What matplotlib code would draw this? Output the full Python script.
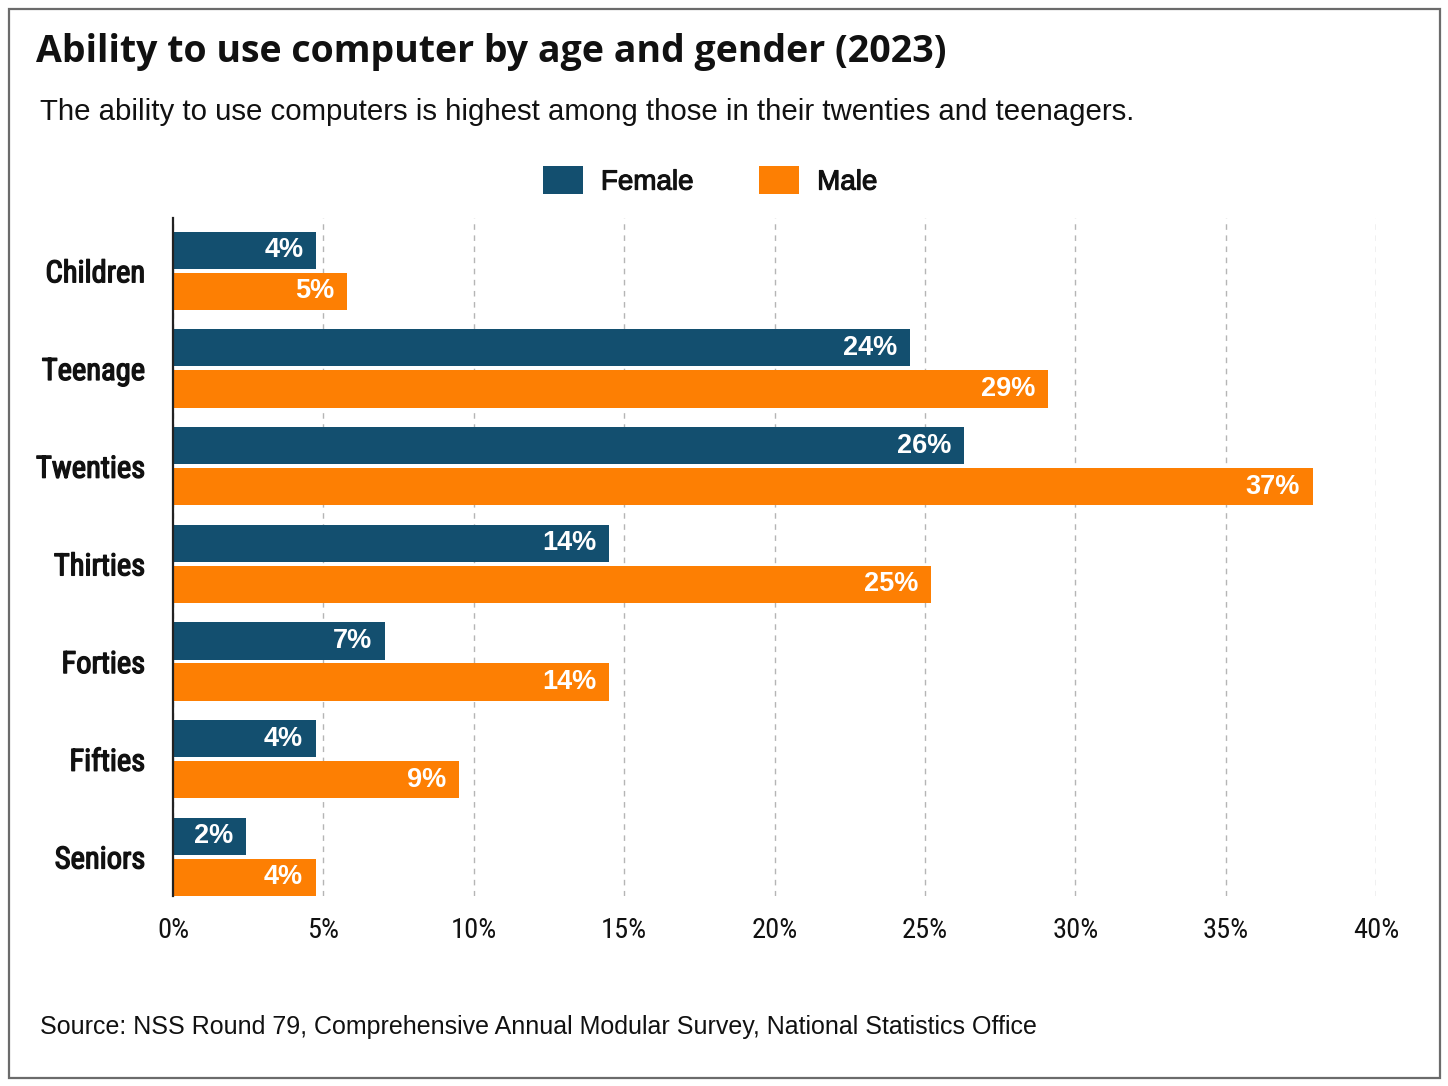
import matplotlib
matplotlib.use("Agg")
import matplotlib.pyplot as plt
from matplotlib.patches import Rectangle, Patch
import matplotlib.patheffects as pe
import numpy as np
import math

categories = ["Children", "Teenage", "Twenties", "Thirties", "Forties", "Fifties", "Seniors"]
female = [4.76, 24.5, 26.3, 14.5, 7.05, 4.75, 2.43]
male = [5.79, 29.1, 37.9, 25.2, 14.5, 9.5, 4.74]
xticks = [0, 5, 10, 15, 20, 25, 30, 35, 40]
xtick_labels = ["0%", "5%", "10%", "15%", "20%", "25%", "30%", "35%", "40%"]
series_names = ["Female", "Male"]

FEMALE_C = "#134f6f"
MALE_C = "#fd7f03"
NARROW = ["Liberation Sans Narrow", "Roboto Condensed", "DejaVu Sans"]

W, H = 1448, 1086
fig = plt.figure(figsize=(W / 100, H / 100), dpi=100)
fig.patch.set_facecolor("white")

# outer frame
fig.add_artist(Rectangle((9 / W, 1 - 1078 / H), (1440 - 9) / W, (1078 - 9) / H,
                         transform=fig.transFigure, fill=False, edgecolor="#6b6b6b", lw=1.6))

ax = fig.add_axes([173 / W, 1 - 896 / H, (1376 - 173) / W, (896 - 218) / H])
y = np.arange(len(categories))
bh = 0.38
off = 0.21
bf = ax.barh(y - off, female, height=bh, color=FEMALE_C, zorder=3)
bm = ax.barh(y + off, male, height=bh, color=MALE_C, zorder=3)

for bars, vals in ((bf, female), (bm, male)):
    for b, v in zip(bars, vals):
        ax.text(b.get_width() - 0.42, b.get_y() + b.get_height() / 2,
                f"{math.floor(v)}%", ha="right", va="center", color="white",
                fontsize=19.5, fontweight="bold", family="Liberation Sans", zorder=4)

ax.set_xlim(0, 40)
ax.set_ylim(6.40, -0.54)
ax.set_yticks(y)
ax.set_yticklabels(categories, family=NARROW, fontsize=22)
for lbl in ax.get_yticklabels():
    lbl.set_path_effects([pe.withStroke(linewidth=1.0, foreground="#111111")])
    lbl.set_color("#111111")
ax.set_xticks(xticks)
ax.set_xticklabels(xtick_labels, family=NARROW, fontsize=20.5)
for lbl in ax.get_xticklabels():
    lbl.set_color("#111111")
ax.tick_params(axis="y", length=0, pad=20)
ax.tick_params(axis="x", length=0, pad=15)
ax.xaxis.grid(True, linestyle=(0, (4, 4)), color="#b5b5b5", lw=1.0, zorder=0)
ax.set_axisbelow(True)
for s in ["top", "right", "bottom"]:
    ax.spines[s].set_visible(False)
ax.spines["left"].set_color("#222222")
ax.spines["left"].set_linewidth(1.6)
ax.spines["left"].set_zorder(5)

fig.text(36 / W, 1 - 52 / H, "Ability to use computer by age and gender (2023)",
         fontsize=27, fontweight="bold", family="Open Sans", va="center", ha="left", color="#111111")
fig.text(40 / W, 1 - 112 / H,
         "The ability to use computers is highest among those in their twenties and teenagers.",
         fontsize=21.2, family="Liberation Sans", va="center", ha="left", color="#111111")

handles = [Patch(facecolor=FEMALE_C), Patch(facecolor=MALE_C)]
leg = fig.legend(handles, series_names, loc="center", bbox_to_anchor=(710 / W, 1 - 181 / H),
                 ncol=2, frameon=False, prop={"family": "Liberation Sans", "size": 20},
                 handlelength=1.44, handleheight=1.15, columnspacing=2.37, handletextpad=0.65)
for t in leg.get_texts():
    t.set_path_effects([pe.withStroke(linewidth=0.8, foreground="#111111")])
    t.set_color("#111111")

fig.text(40 / W, 1 - 1027 / H,
         "Source: NSS Round 79, Comprehensive Annual Modular Survey, National Statistics Office",
         fontsize=18, family="Liberation Sans", va="center", ha="left", color="#111111")

fig.savefig("out.png", dpi=100, facecolor="white")
